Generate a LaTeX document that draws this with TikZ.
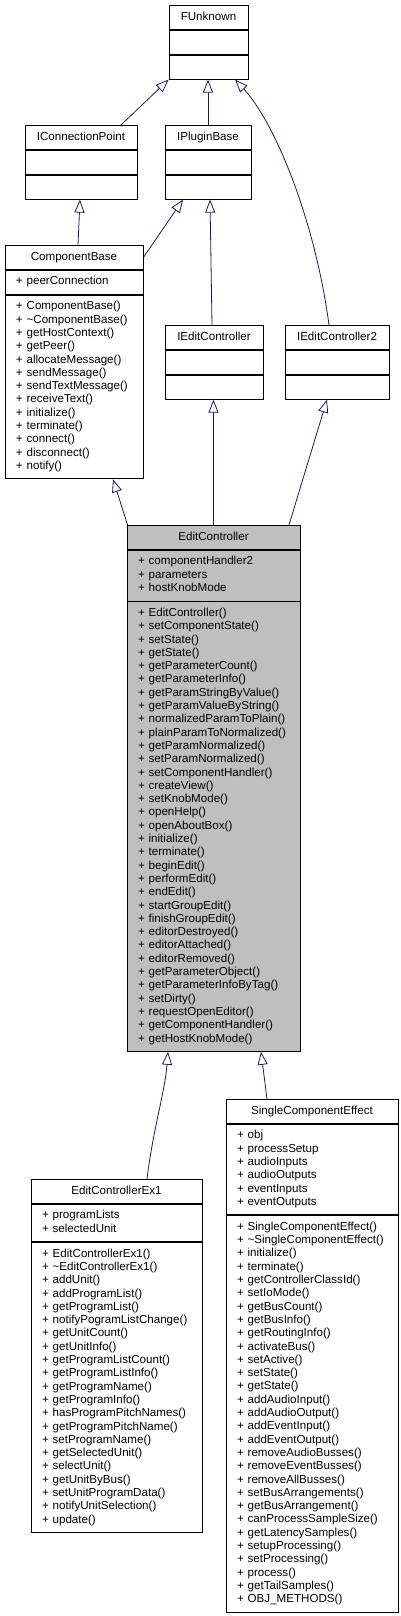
\documentclass[tikz,border=0pt]{standalone}
\usepackage{fontspec}
\setmainfont{Liberation Sans}
\usetikzlibrary{positioning, arrows.meta}
\definecolor{edge}{RGB}{25, 25, 112}
\definecolor{shade}{RGB}{191, 191, 191}

\begin{document}
\begin{tikzpicture}[x=1pt, y=-1pt,
      font=\fontsize{11.6}{13.3}\selectfont,
      head/.style={draw, fill=white, line width=0.8pt, anchor=north, minimum width=#1, minimum height=24pt, inner sep=0pt, execute at begin node=\strut},
      body/.style={draw, fill=white, line width=0.8pt, text width=#1, align=left, inner xsep=11pt, inner ysep=5.4pt, execute at begin node=\strut, execute at end node=\strut},
      inherit/.style={draw=edge, line width=0.8pt, -{Triangle[length=13pt, width=10pt, fill=white]}}
   ]
      \useasboundingbox (0,0) rectangle (401,1616);

      % Interfaces at the top
      \node (funk)   [head=79pt] at (208.5,5) {FUnknown};
      \node (funk-a) [body=57pt, below=0pt of funk]   {};
      \node (funk-o) [body=57pt, below=0pt of funk-a] {};

      \node (icp)   [head=112pt] at (81,125) {IConnectionPoint};
      \node (icp-a) [body=90pt, below=0pt of icp]   {};
      \node (icp-o) [body=90pt, below=0pt of icp-a] {};

      \node (ipb)   [head=86pt] at (208,125) {IPluginBase};
      \node (ipb-a) [body=64pt, below=0pt of ipb]   {};
      \node (ipb-o) [body=64pt, below=0pt of ipb-a] {};

      % ComponentBase
      \node (cb)   [head=138pt] at (74,245) {ComponentBase};
      \node (cb-a) [body=116pt, below=0pt of cb] {+~peerConnection};
      \node (cb-o) [body=116pt, below=0pt of cb-a] {+~ComponentBase()\\
         +~\textasciitilde ComponentBase()\\ +~getHostContext()\\ +~getPeer()\\
         +~allocateMessage()\\ +~sendMessage()\\ +~sendTextMessage()\\
         +~receiveText()\\ +~initialize()\\ +~terminate()\\ +~connect()\\
         +~disconnect()\\ +~notify()};

      \node (iec)   [head=98pt] at (214,325) {IEditController};
      \node (iec-a) [body=76pt, below=0pt of iec]   {};
      \node (iec-o) [body=76pt, below=0pt of iec-a] {};

      \node (iec2)   [head=104pt] at (337,325) {IEditController2};
      \node (iec2-a) [body=82pt, below=0pt of iec2]   {};
      \node (iec2-o) [body=82pt, below=0pt of iec2-a] {};

      % EditController (the class itself)
      \node (ec)   [head=173pt, fill=shade] at (213.5,525) {EditController};
      \node (ec-a) [body=151pt, fill=shade, below=0pt of ec] {+~componentHandler2\\
         +~parameters\\ +~hostKnobMode};
      \node (ec-o) [body=151pt, fill=shade, below=0pt of ec-a] {+~EditController()\\
         +~setComponentState()\\ +~setState()\\ +~getState()\\
         +~getParameterCount()\\ +~getParameterInfo()\\ +~getParamStringByValue()\\
         +~getParamValueByString()\\ +~normalizedParamToPlain()\\
         +~plainParamToNormalized()\\ +~getParamNormalized()\\
         +~setParamNormalized()\\ +~setComponentHandler()\\ +~createView()\\
         +~setKnobMode()\\ +~openHelp()\\ +~openAboutBox()\\ +~initialize()\\
         +~terminate()\\ +~beginEdit()\\ +~performEdit()\\ +~endEdit()\\
         +~startGroupEdit()\\ +~finishGroupEdit()\\ +~editorDestroyed()\\
         +~editorAttached()\\ +~editorRemoved()\\ +~getParameterObject()\\
         +~getParameterInfoByTag()\\ +~setDirty()\\ +~requestOpenEditor()\\
         +~getComponentHandler()\\ +~getHostKnobMode()};

      % Subclasses
      \node (sce)   [head=172pt] at (312,1099) {SingleComponentEffect};
      \node (sce-a) [body=150pt, below=0pt of sce] {+~obj\\ +~processSetup\\
         +~audioInputs\\ +~audioOutputs\\ +~eventInputs\\ +~eventOutputs};
      \node (sce-o) [body=150pt, below=0pt of sce-a] {+~SingleComponentEffect()\\
         +~\textasciitilde SingleComponentEffect()\\ +~initialize()\\ +~terminate()\\
         +~getControllerClassId()\\ +~setIoMode()\\ +~getBusCount()\\
         +~getBusInfo()\\ +~getRoutingInfo()\\ +~activateBus()\\ +~setActive()\\
         +~setState()\\ +~getState()\\ +~addAudioInput()\\ +~addAudioOutput()\\
         +~addEventInput()\\ +~addEventOutput()\\ +~removeAudioBusses()\\
         +~removeEventBusses()\\ +~removeAllBusses()\\ +~setBusArrangements()\\
         +~getBusArrangement()\\ +~canProcessSampleSize()\\ +~getLatencySamples()\\
         +~setupProcessing()\\ +~setProcessing()\\ +~process()\\
         +~getTailSamples()\\ +~OBJ\_METHODS()};

      \node (ecx)   [head=171pt] at (116.5,1179) {EditControllerEx1};
      \node (ecx-a) [body=149pt, below=0pt of ecx] {+~programLists\\ +~selectedUnit};
      \node (ecx-o) [body=149pt, below=0pt of ecx-a] {+~EditControllerEx1()\\
         +~\textasciitilde EditControllerEx1()\\ +~addUnit()\\ +~addProgramList()\\
         +~getProgramList()\\ +~notifyPogramListChange()\\ +~getUnitCount()\\
         +~getUnitInfo()\\ +~getProgramListCount()\\ +~getProgramListInfo()\\
         +~getProgramName()\\ +~getProgramInfo()\\ +~hasProgramPitchNames()\\
         +~getProgramPitchName()\\ +~setProgramName()\\ +~getSelectedUnit()\\
         +~selectUnit()\\ +~getUnitByBus()\\ +~setUnitProgramData()\\
         +~notifyUnitSelection()\\ +~update()};

      % Inheritance arrows
      \draw[inherit] ([xshift=40pt]icp.north) -- (funk-o.south west);
      \draw[inherit] (ipb.north) -- (ipb.north |- funk-o.south);
      \draw[inherit] ([xshift=-8pt]iec2.north) .. controls +(-14,-105) and +(40,43) .. ([xshift=26.5pt]funk-o.south);
      \draw[inherit] ([xshift=4pt]cb.north) -- ([xshift=-1pt]icp-o.south);
      \draw[inherit] (cb.east) -- ([xshift=-25pt]ipb-o.south);
      \draw[inherit] ([xshift=-2pt]iec.north) -- ([xshift=2pt]ipb-o.south);
      \draw[inherit] ([xshift=1pt]ec.north west) -- ([xshift=39pt]cb-o.south);
      \draw[inherit] (ec.north) -- (ec.north |- iec-o.south);
      \draw[inherit] ([xshift=75.5pt]ec.north) -- ([xshift=-10pt]iec2-o.south);
      \draw[inherit] ([xshift=30.5pt]ecx.north) .. controls +(6,-50) and +(-3,40) .. ([xshift=-45.5pt]ec-o.south);
      \draw[inherit] ([xshift=-45pt]sce.north) -- ([xshift=47.5pt]ec-o.south);
   \end{tikzpicture}
\end{document}
